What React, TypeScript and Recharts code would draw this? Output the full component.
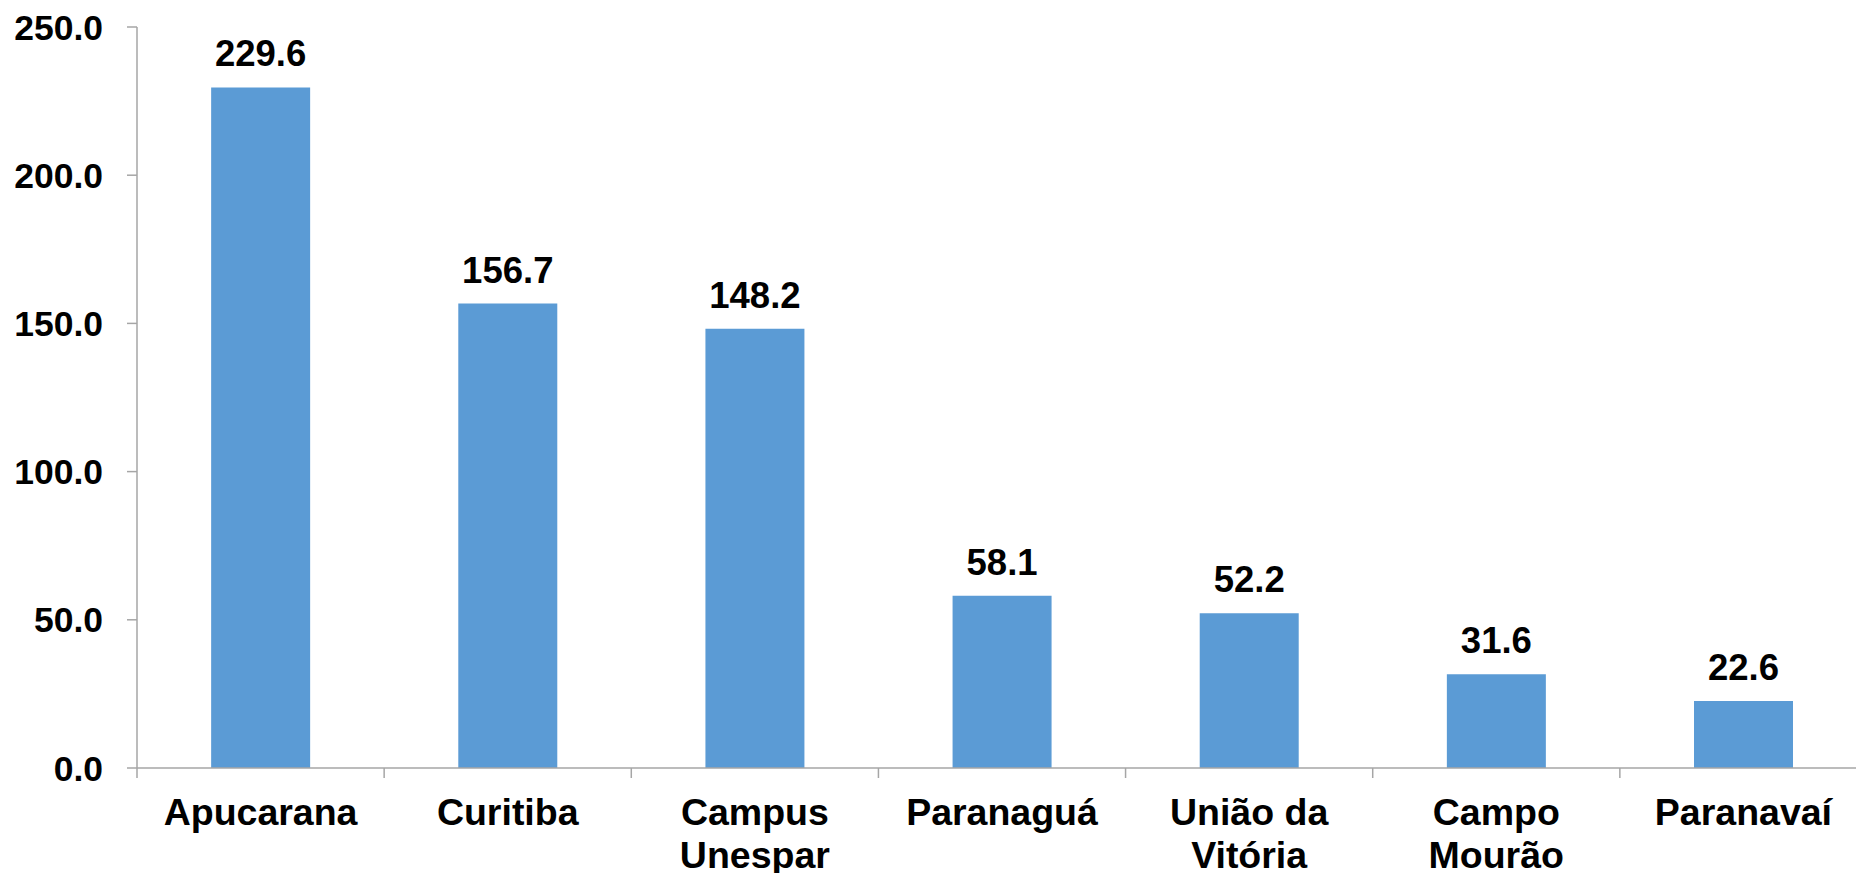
import React from 'react';
import { BarChart, Bar, XAxis, YAxis, LabelList } from 'recharts';

const categories = ['Apucarana', 'Curitiba', 'Campus\nUnespar', 'Paranaguá', 'União da\nVitória', 'Campo\nMourão', 'Paranavaí'];
const values = [229.6, 156.7, 148.2, 58.1, 52.2, 31.6, 22.6];
const yTicks = [0, 50, 100, 150, 200, 250];

const data = categories.map((name, i) => ({ name, value: values[i] }));

const FONT = '"Liberation Sans", Arial, sans-serif';
const CHART_W = 1868;
const CHART_H = 873;
const Y_AXIS_W = 137;
const MARGIN = { top: 27, right: 1, left: 0, bottom: 0 };
const STEP = (CHART_W - Y_AXIS_W - MARGIN.left - MARGIN.right) / categories.length;
const AXIS_COLOR = '#A6A6A6';

const CategoryTick = (props: any) => {
  const { x, y, payload, index } = props;
  const lines = String(payload.value).split('\n');
  return (
    <g>
      <line x1={x - STEP / 2} x2={x - STEP / 2} y1={y} y2={y + 10} stroke={AXIS_COLOR} strokeWidth={1.5} />
      {index === categories.length - 1 && (
        <line x1={x + STEP / 2} x2={x + STEP / 2} y1={y} y2={y + 10} stroke={AXIS_COLOR} strokeWidth={1.5} />
      )}
      <text x={x} y={y + 57} textAnchor="middle" fontFamily={FONT} fontWeight="bold" fontSize={37.5} fill="#000">
        {lines.map((l, i) => (
          <tspan key={i} x={x} dy={i === 0 ? 0 : 43}>{l}</tspan>
        ))}
      </text>
    </g>
  );
};

export default function App() {
  return (
    <div style={{ position: 'absolute', left: 0, top: 0, width: 1856, height: 873, overflow: 'hidden', background: '#fff' }}>
      <BarChart width={CHART_W} height={CHART_H} data={data} margin={MARGIN} barCategoryGap="30%">
        <XAxis
          dataKey="name"
          height={CHART_H - 768}
          tickLine={false}
          tickSize={0}
          tickMargin={0}
          axisLine={{ stroke: AXIS_COLOR, strokeWidth: 1.5 }}
          tick={<CategoryTick />}
          interval={0}
        />
        <YAxis
          width={Y_AXIS_W}
          domain={[0, 250]}
          ticks={yTicks}
          tickFormatter={(v: number) => v.toFixed(1)}
          tickSize={10}
          tickMargin={24}
          tickLine={{ stroke: AXIS_COLOR, strokeWidth: 1.5 }}
          axisLine={{ stroke: AXIS_COLOR, strokeWidth: 1.5 }}
          tick={{ fill: '#000', fontSize: 35.5, fontWeight: 'bold', fontFamily: FONT }}
        />
        <Bar dataKey="value" fill="#5B9BD5" isAnimationActive={false}>
          <LabelList
            dataKey="value"
            position="top"
            offset={21}
            formatter={(v: any) => Number(v).toFixed(1)}
            style={{ fill: '#000', fontSize: 36.5, fontWeight: 'bold', fontFamily: FONT }}
          />
        </Bar>
      </BarChart>
    </div>
  );
}
